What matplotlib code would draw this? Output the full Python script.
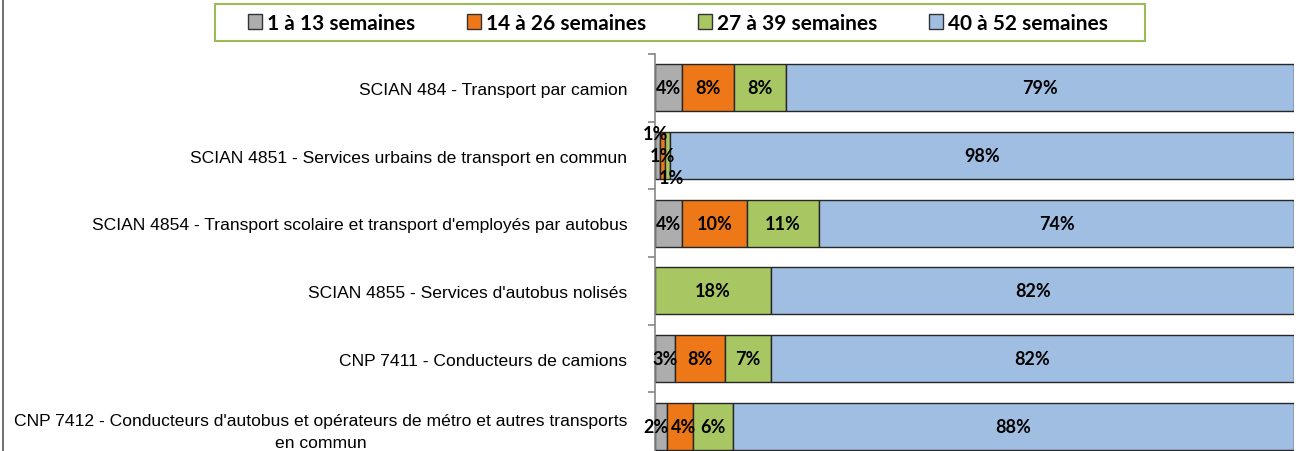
import matplotlib.pyplot as plt
from matplotlib.lines import Line2D
from matplotlib.patches import Patch, Rectangle

categories = [
    "SCIAN 484 - Transport par camion",
    "SCIAN 4851 - Services urbains de transport en commun",
    "SCIAN 4854 - Transport scolaire et transport d'employés par autobus",
    "SCIAN 4855 - Services d'autobus nolisés",
    "CNP 7411 - Conducteurs de camions",
    "CNP 7412 - Conducteurs d'autobus et opérateurs de métro et autres transports\nen commun",
]
series = ["1 à 13 semaines", "14 à 26 semaines", "27 à 39 semaines", "40 à 52 semaines"]

s1_13 = [4.2, 0.8, 4.2, 0.0, 3.1, 1.9]
s14_26 = [8.2, 0.7, 10.2, 0.0, 7.8, 4.1]
s27_39 = [8.1, 0.9, 11.3, 18.2, 7.2, 6.2]
s40_52 = [79.5, 97.6, 74.3, 81.8, 81.9, 87.8]
shown = [
    [4, 8, 8, 79],
    [1, 1, 1, 98],
    [4, 10, 11, 74],
    [0, 0, 18, 82],
    [3, 8, 7, 82],
    [2, 4, 6, 88],
]

colors = ["#ADADAD", "#EE7718", "#A8C763", "#A0BEE2"]

label_font = ["Liberation Sans", "DejaVu Sans"]
pct_font = ["Lato", "DejaVu Sans"]

# small nudges of crowded labels (row, series): (dx in %, dy in rows)
nudges = {(1, 0): (-0.4, -0.33), (1, 2): (0.6, 0.33), (5, 0): (-0.8, 0), (5, 1): (0.6, 0)}

fig = plt.figure(figsize=(12.99, 4.52), dpi=100)
ax = fig.add_axes([655 / 1299, -9 / 452, 639 / 1299, 406 / 452])

y = list(range(len(categories)))
left = [0.0] * len(categories)
for k, vals in enumerate([s1_13, s14_26, s27_39, s40_52]):
    ax.barh(y, vals, left=left, height=0.69, color=colors[k],
            edgecolor="#262626", linewidth=1.0, zorder=2)
    for i, v in enumerate(vals):
        if shown[i][k] == 0:
            continue
        dx, dy = nudges.get((i, k), (0, 0))
        ax.text(left[i] + v / 2 + dx, i + dy, f"{shown[i][k]}%", ha="center",
                va="center", fontsize=13, fontweight="bold", family=pct_font,
                color="black", zorder=3)
    left = [a + b for a, b in zip(left, vals)]

ax.set_xlim(0, 100)
ax.set_ylim(5.5, -0.5)
ax.set_yticks(y)
ax.set_yticklabels(categories, family=label_font, fontsize=12.6,
                   multialignment="center")
for lbl in ax.get_yticklabels():
    lbl.set_linespacing(1.6)
ax.set_yticks([i - 0.5 for i in range(len(categories) + 1)], minor=True)
ax.tick_params(axis="y", which="major", length=0, pad=20)
ax.tick_params(axis="y", which="minor", length=5, color="#868686", width=1.2)
ax.set_xticks([])
for side in ["top", "right", "bottom"]:
    ax.spines[side].set_visible(False)
ax.spines["left"].set_color("#868686")
ax.spines["left"].set_linewidth(1.2)

# legend box drawn separately so its size matches the reference
fig.add_artist(Rectangle((215 / 1299, 1 - 42 / 452), 930 / 1299, 37 / 452,
                         transform=fig.transFigure, facecolor="white",
                         edgecolor="#9BBB59", linewidth=1.5))
handles = [Patch(facecolor=c, edgecolor="#333333", linewidth=1.0) for c in colors]
leg = fig.legend(handles, series, loc="center", ncol=4,
                 bbox_to_anchor=(678 / 1299, 1 - 23.5 / 452),
                 prop={"family": pct_font, "weight": "bold", "size": 15},
                 handlelength=0.7, handleheight=0.7, handletextpad=0.25,
                 columnspacing=2.45, frameon=False)

fig.add_artist(Line2D([2.5 / 1299, 2.5 / 1299], [0, 1], transform=fig.transFigure,
                      color="#555555", linewidth=1.2))

fig.savefig("out.png", dpi=100)
